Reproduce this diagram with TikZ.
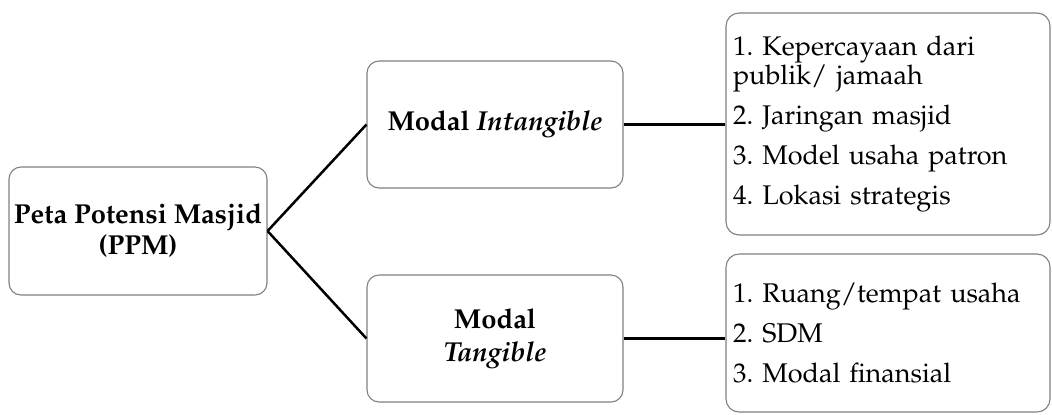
\documentclass[tikz,border=0pt]{standalone}
\usepackage[T1]{fontenc}
\usepackage{mathpazo}
\definecolor{boxgray}{RGB}{128,128,128}
\frenchspacing
\begin{document}
\begin{tikzpicture}[x=0.5pt,y=-0.5pt,
  box/.style={draw=boxgray, line width=0.55pt, rounded corners=6pt, fill=white},
  ttl/.style={box, font=\fontsize{13.7}{15.5}\selectfont\bfseries, align=center, inner sep=0pt},
  lst/.style={box, rounded corners=6.5pt, font=\fontsize{13.5}{13.5}\selectfont, align=left, inner xsep=3.5pt, inner ysep=0pt},
  link/.style={line width=1.25pt, black}]
\useasboundingbox (0,0) rectangle (1052,414);
\node[ttl, minimum width=129pt, minimum height=64pt] (L) at (138,231) {Peta Potensi Masjid\\(PPM)};
\node[ttl, minimum width=128pt, minimum height=63.5pt] (MT) at (495,124.5) {Modal \textit{Intangible}};
\node[ttl, minimum width=128pt, minimum height=63.5pt, font=\fontsize{13.7}{16.5}\selectfont\bfseries] (MB) at (495,338.5) {Modal\\\textit{Tangible}};
\node[lst, text width=155pt, minimum height=111pt] (RT) at (888,124) {1. Kepercayaan dari\\publik/ jamaah\\[5.5pt]2. Jaringan masjid\\[5.5pt]3. Model usaha patron\\[5.5pt]4. Lokasi strategis};
\node[lst, text width=155pt, minimum height=79pt] (RB) at (888,333) {1. Ruang/tempat usaha\\[6.5pt]2. SDM\\[6.5pt]3. Modal finansial};
\draw[link] (L.east) -- (MT.west);
\draw[link] (L.east) -- (MB.west);
\draw[link] (MT.east) -- (MT.east -| RT.west);
\draw[link] (MB.east) -- (MB.east -| RB.west);
\end{tikzpicture}
\end{document}
